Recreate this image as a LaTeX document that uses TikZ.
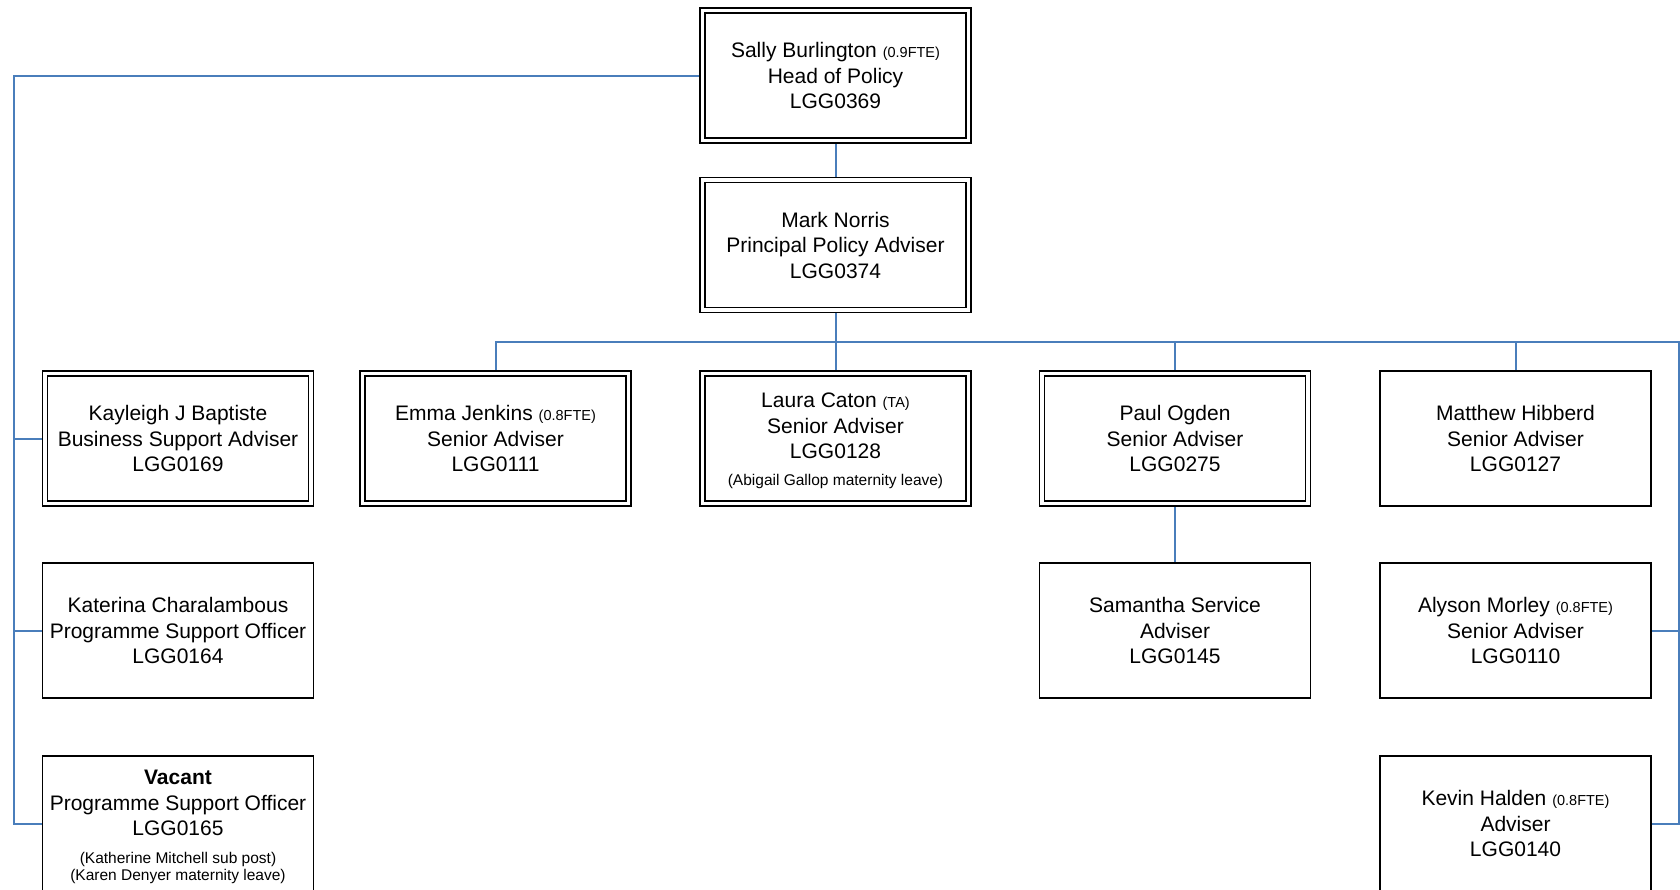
\documentclass[tikz,border=0pt]{standalone}
\usepackage{fontspec}
\setmainfont{Liberation Sans}
\usetikzlibrary{backgrounds}
\definecolor{linkblue}{HTML}{4A7EBB}
\newcommand{\sm}[1]{{\fontsize{14.5}{16}\selectfont #1}}
\newcommand{\nt}{\fontsize{15.5}{17}\selectfont}
\tikzset{
  post/.style={draw=black, fill=white, line width=1.6pt, minimum width=271pt, minimum height=135pt,
    inner sep=0pt, outer sep=0pt, align=center, font=\fontsize{21}{25.5}\selectfont},
  dpost/.style={post, double, double distance=3.4pt, line width=1.6pt, minimum width=266pt, minimum height=130pt},
  link/.style={draw=linkblue, line width=2pt}
}
\begin{document}
\begin{tikzpicture}[x=1pt,y=-1pt]
\useasboundingbox (0,0) rectangle (1680,889);
\node[dpost] (sally) at (835.5,75.5) {Sally Burlington \sm{(0.9FTE)}\\Head of Policy\\LGG0369};
\node[dpost] (mark) at (835.5,245) {Mark Norris\\Principal Policy Adviser\\LGG0374};
\node[dpost] (kayleigh) at (178,438.5) {Kayleigh J Baptiste\\Business Support Adviser\\LGG0169};
\node[dpost] (emma) at (495.5,438.5) {Emma Jenkins \sm{(0.8FTE)}\\Senior Adviser\\LGG0111};
\node[dpost] (laura) at (835.5,438.5) {\rule{0pt}{19.5pt}Laura Caton \sm{(TA)}\\Senior Adviser\\LGG0128\\[1pt]\nt (Abigail Gallop maternity leave)};
\node[dpost] (paul) at (1175,438.5) {Paul Ogden\\Senior Adviser\\LGG0275};
\node[post] (matthew) at (1515.5,438.5) {Matthew Hibberd\\Senior Adviser\\LGG0127};
\node[post] (katerina) at (178,630.5) {Katerina Charalambous\\Programme Support Officer\\LGG0164};
\node[post] (samantha) at (1175,630.5) {Samantha Service\\Adviser\\LGG0145};
\node[post] (alyson) at (1515.5,630.5) {Alyson Morley \sm{(0.8FTE)}\\Senior Adviser\\LGG0110};
\node[post] (vacant) at (178,823.5) {\rule{0pt}{21.5pt}\textbf{Vacant}\\Programme Support Officer\\LGG0165\\[2pt]\nt (Katherine Mitchell sub post)\\[-8pt]\nt (Karen Denyer maternity leave)};
\node[post] (kevin) at (1515.5,823.5) {Kevin Halden \sm{(0.8FTE)}\\Adviser\\LGG0140};
\coordinate (lb) at (14,75.5);
\coordinate (rb) at (1678.5,342);
\begin{scope}[on background layer]
\draw[link] (sally) -- (mark);
\draw[link] (mark) -- (laura);
\draw[link] (sally.west) -- (lb) |- (vacant.west);
\draw[link] (lb |- kayleigh.west) -- (kayleigh.west);
\draw[link] (lb |- katerina.west) -- (katerina.west);
\draw[link] (emma.north) -- (emma.north |- rb) -- (rb) |- (kevin.east);
\draw[link] (rb |- alyson.east) -- (alyson.east);
\draw[link] (paul.north) -- (paul.north |- rb);
\draw[link] (matthew.north) -- (matthew.north |- rb);
\draw[link] (paul) -- (samantha);
\end{scope}
\end{tikzpicture}
\end{document}
